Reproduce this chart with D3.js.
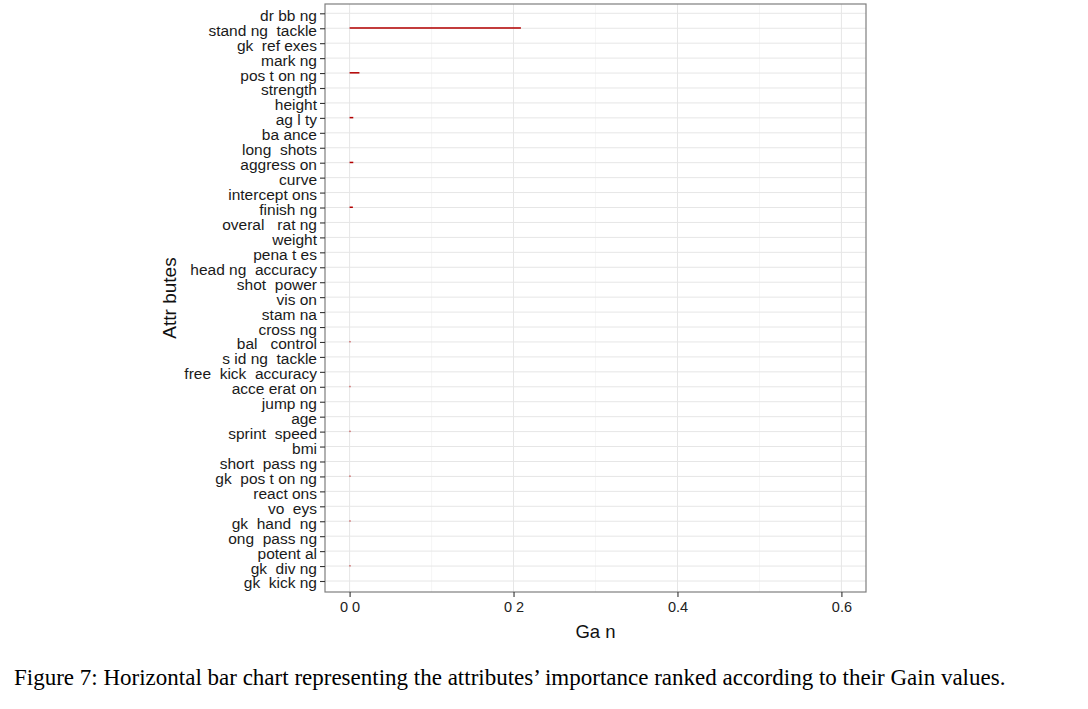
<!DOCTYPE html>
<html>
<head>
<meta charset="utf-8">
<script src="https://cdn.jsdelivr.net/npm/d3@7/dist/d3.min.js"></script>
<style>
  html, body { margin: 0; padding: 0; background: #fff; }
  svg { display: block; }
  text { white-space: pre; }
</style>
</head>
<body>
<svg id="chart" width="1088" height="709"></svg>
<script>
const categories = [
  "dr bb ng", "stand ng  tackle", "gk  ref exes", "mark ng", "pos t on ng",
  "strength", "height", "ag l ty", "ba ance", "long  shots", "aggress on",
  "curve", "intercept ons", "finish ng", "overal   rat ng", "weight",
  "pena t es", "head ng  accuracy", "shot  power", "vis on", "stam na",
  "cross ng", "bal   control", "s id ng  tackle", "free  kick  accuracy",
  "acce erat on", "jump ng", "age", "sprint  speed", "bmi", "short  pass ng",
  "gk  pos t on ng", "react ons", "vo  eys", "gk  hand  ng", "ong  pass ng",
  "potent al", "gk  div ng", "gk  kick ng"
];
const gainValues = [
  0, 0.209, 0, 0, 0.012,
  0, 0, 0.0045, 0, 0, 0.0045,
  0, 0, 0.004, 0, 0,
  0, 0, 0, 0, 0,
  0, 0.0008, 0, 0,
  0.0008, 0, 0, 0.0008, 0, 0,
  0.0008, 0, 0, 0.0008, 0,
  0, 0.0008, 0
];
const xTickValues = [0, 0.2, 0.4, 0.6];
const xTickLabels = ["0 0", "0 2", "0.4", "0.6"];
const xMinorValues = [0.1, 0.3, 0.5];
const xTitle = "Ga n";
const yTitle = "Attr butes";
const caption = "Figure 7: Horizontal bar chart representing the attributes\u2019 importance ranked according to their Gain values.";

const data = categories.map((c, i) => ({ name: c, value: gainValues[i] }));

const svg = d3.select("#chart");
const panel = { left: 325, right: 866, top: 4, bottom: 592 };

const x = d3.scaleLinear().domain([-0.03, 0.63]).range([panel.left, panel.right]);
const y = d3.scalePoint().domain(categories).range([13.3, 581]);

svg.append("rect")
  .attr("x", panel.left).attr("y", panel.top)
  .attr("width", panel.right - panel.left).attr("height", panel.bottom - panel.top)
  .attr("fill", "#fff");

svg.append("g").selectAll("line").data(xMinorValues).join("line")
  .attr("x1", d => x(d)).attr("x2", d => x(d))
  .attr("y1", panel.top).attr("y2", panel.bottom)
  .attr("stroke", "#f4f4f4").attr("stroke-width", 0.8);

svg.append("g").selectAll("line").data(xTickValues).join("line")
  .attr("x1", d => x(d)).attr("x2", d => x(d))
  .attr("y1", panel.top).attr("y2", panel.bottom)
  .attr("stroke", "#e6e6e6").attr("stroke-width", 1);

svg.append("g").selectAll("line").data(categories).join("line")
  .attr("x1", panel.left).attr("x2", panel.right)
  .attr("y1", d => y(d)).attr("y2", d => y(d))
  .attr("stroke", "#e6e6e6").attr("stroke-width", 1);

svg.append("g").selectAll("rect").data(data.filter(d => d.value > 0)).join("rect")
  .attr("x", x(0))
  .attr("y", d => y(d.name) - 1)
  .attr("width", d => Math.max(0.8, x(d.value) - x(0)))
  .attr("height", 1.5)
  .attr("fill", "#b30000");

svg.append("rect")
  .attr("x", panel.left).attr("y", panel.top)
  .attr("width", panel.right - panel.left).attr("height", panel.bottom - panel.top)
  .attr("fill", "none").attr("stroke", "#7f7f7f").attr("stroke-width", 1.2);

const yAxis = d3.axisLeft(y).tickSize(5).tickPadding(3);
const gy = svg.append("g").attr("transform", `translate(${panel.left},0)`).call(yAxis);
gy.select(".domain").remove();
gy.selectAll(".tick line").attr("stroke", "#333").attr("stroke-width", 1.1);
gy.selectAll(".tick text")
  .attr("fill", "#1a1a1a")
  .style("font-family", "'Liberation Sans', Arial, sans-serif")
  .style("font-size", "15.5px")
  .attr("dy", "0.45em");

const xAxis = d3.axisBottom(x).tickValues(xTickValues)
  .tickFormat((d, i) => xTickLabels[i]).tickSize(5).tickPadding(5);
const gx = svg.append("g").attr("transform", `translate(0,${panel.bottom})`).call(xAxis);
gx.select(".domain").remove();
gx.selectAll(".tick line").attr("stroke", "#333").attr("stroke-width", 1.1);
gx.selectAll(".tick text")
  .attr("fill", "#222")
  .style("font-family", "'Liberation Sans', Arial, sans-serif")
  .style("font-size", "14.5px");

svg.append("text")
  .attr("x", (panel.left + panel.right) / 2).attr("y", 638)
  .attr("text-anchor", "middle")
  .style("font-family", "'Liberation Sans', Arial, sans-serif")
  .style("font-size", "18.5px").attr("fill", "#111")
  .text(xTitle);

svg.append("text")
  .attr("transform", `translate(176,${(panel.top + panel.bottom) / 2}) rotate(-90)`)
  .attr("text-anchor", "middle")
  .style("font-family", "'Liberation Sans', Arial, sans-serif")
  .style("font-size", "19px").attr("fill", "#111")
  .text(yTitle);

svg.append("text")
  .attr("x", 14).attr("y", 685)
  .style("font-family", "'Liberation Serif', 'Times New Roman', serif")
  .style("font-size", "23px").attr("fill", "#000")
  .text(caption);
</script>
</body>
</html>
